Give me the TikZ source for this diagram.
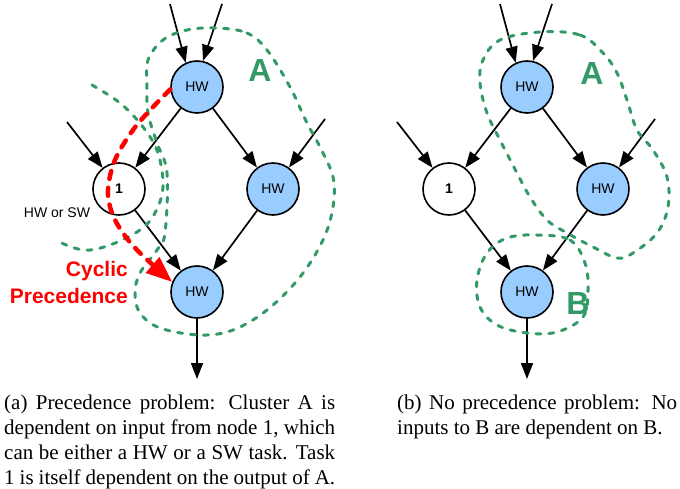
\documentclass[tikz,border=0pt]{standalone}
\usepackage{fontspec}
\setmainfont{Liberation Serif}
\setsansfont{Liberation Sans}
\usetikzlibrary{arrows.meta}

\definecolor{hwblue}{HTML}{99CCFF}
\definecolor{clustergreen}{HTML}{339966}

\tikzset{
  task/.style={circle, draw, line width=1.6pt, minimum size=52pt, inner sep=0pt,
    font=\sffamily\fontsize{14}{14}\selectfont},
  hwtask/.style={task, fill=hwblue},
  dep/.style={line width=1.7pt, -{Triangle[length=16pt,width=12pt]}},
  cluster/.style={clustergreen, line width=3pt, line cap=round, dash pattern=on 5pt off 8pt},
  clusterlabel/.style={clustergreen, font=\sffamily\bfseries\fontsize{32}{32}\selectfont},
  caption/.style={inner sep=0pt, align=justify, font=\fontsize{21}{25}\selectfont},
}

\begin{document}
\begin{tikzpicture}[x=1pt, y=-1pt]
  \useasboundingbox (0,0) rectangle (680,489);

  % same task graph in (a) and (b)
  \foreach \p/\dx in {a/0, b/330} {
    \begin{scope}[xshift=\dx pt]
      \node[hwtask] (\p top) at (197,87) {HW};
      \node[task] (\p one) at (119,189) {\textbf{1}};
      \node[hwtask] (\p right) at (273,189) {HW};
      \node[hwtask] (\p bot) at (197,292) {HW};
      \coordinate (\p inl) at (170,4);
      \coordinate (\p inr) at (222,4);
      \coordinate (\p inone) at (67,122);
      \coordinate (\p inright) at (325,119);
      \coordinate (\p out) at (197,379);
      \draw[dep] (\p inl) -- (\p top.115);
      \draw[dep] (\p inr) -- (\p top.77);
      \draw[dep] (\p inone) -- (\p one);
      \draw[dep] (\p inright) -- (\p right);
      \draw[dep] (\p top) -- (\p one);
      \draw[dep] (\p top) -- (\p right);
      \draw[dep] (\p one) -- (\p bot);
      \draw[dep] (\p right) -- (\p bot);
      \draw[dep] (\p bot) -- (\p out);
    \end{scope}
  }

  % (a) clusters and the cycle
  \draw[cluster] plot[smooth cycle, tension=0.6] coordinates {(217,28) (247,33) (267,50)
    (290,87) (307,123) (320,147) (333,177) (333,207) (323,240) (300,277) (267,310)
    (233,330) (200,335) (160,328) (140,313) (135,293) (140,273) (157,250) (165,233)
    (167,173) (157,143) (148,113) (147,83) (148,60) (163,40) (187,30)};
  \draw[cluster] plot[smooth, tension=0.6] coordinates {(92,85) (120,103) (143,127)
    (158,153) (163,187) (155,213) (140,230) (110,245) (83,250) (55,240)};
  \draw[red, line width=4.5pt, line cap=round, dash pattern=on 8pt off 9pt,
    -{Triangle[length=26pt,width=20pt]}] plot[smooth, tension=0.6] coordinates {(atop.185)
    (153,107) (133,130) (115,160) (108,190) (112,213) (123,233) (140,253) (abot.158)};
  \node[clusterlabel] (alabA) at (260,70) {A};
  \node[font=\sffamily\fontsize{14}{14}\selectfont] (hwsw) at (57,213) {HW or SW};
  \node[red, anchor=east, align=right, inner sep=0pt,
    font=\sffamily\bfseries\fontsize{21}{27}\selectfont] (cyclic) at (128,282) {Cyclic\\Precedence};

  % (b) clusters
  \draw[cluster] plot[smooth cycle, tension=0.6] coordinates {(540,32) (580,35) (603,53)
    (617,73) (627,100) (637,130) (653,150) (667,177) (668,207) (657,233) (633,253)
    (617,258) (593,247) (567,233) (547,220) (530,197) (517,173) (500,140) (487,113)
    (480,83) (483,60) (500,40)};
  \draw[cluster] plot[smooth cycle, tension=0.6] coordinates {(537,235) (570,240)
    (585,263) (588,290) (583,317) (557,332) (527,333) (497,325) (480,307) (477,280)
    (487,253) (507,238)};
  \node[clusterlabel] (blabA) at (592,73) {A};
  \node[clusterlabel] (blabB) at (578,303) {B};

  % captions
  \node[caption, text width=331pt, anchor=base west] (capa) at (4,409)
    {(a) Precedence problem: Cluster A is dependent on input from node 1, which
     can be either a HW or a SW task. Task 1 is itself dependent on the output of A.};
  \node[caption, text width=280pt, anchor=base west] (capb) at (397,409)
    {(b) No precedence problem: No inputs to B are dependent on B.};
\end{tikzpicture}
\end{document}
